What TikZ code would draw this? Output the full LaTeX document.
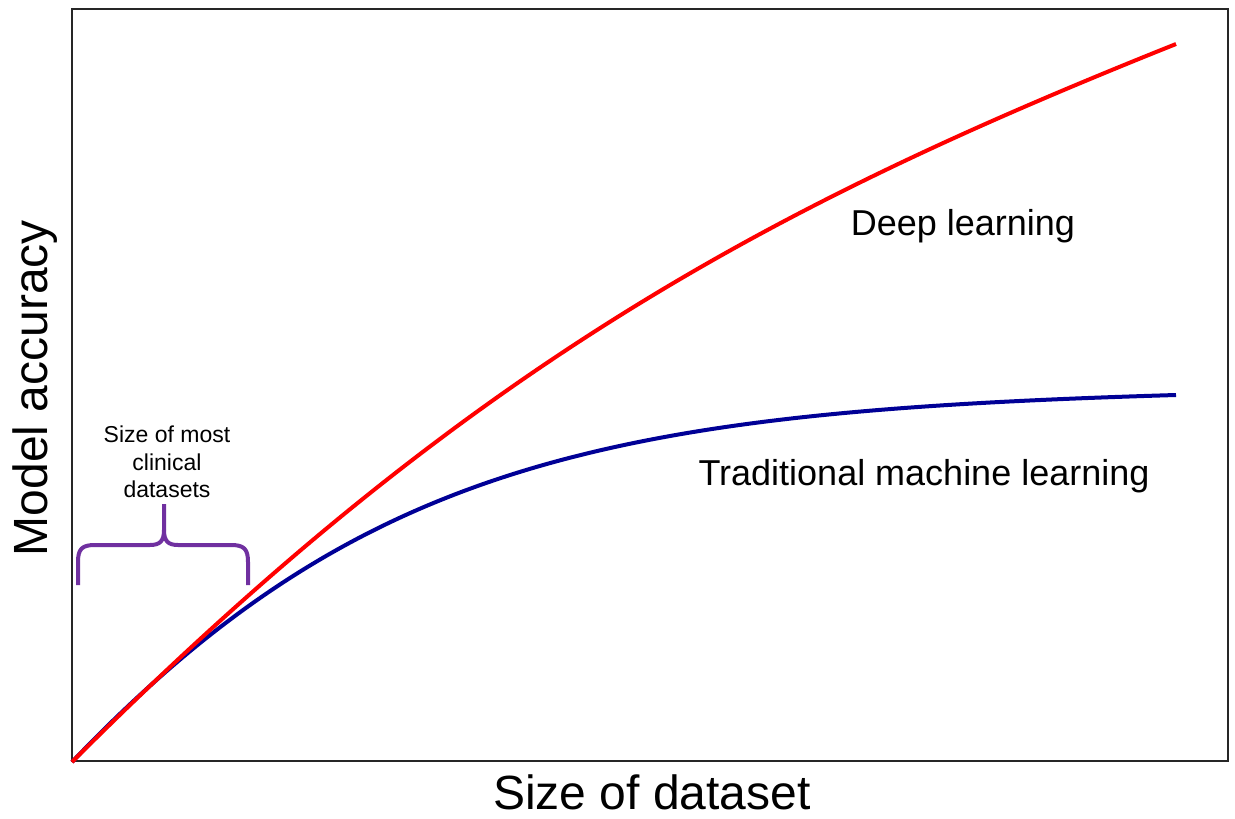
\documentclass[tikz,border=0pt]{standalone}
\usepackage{fontspec}
\setmainfont{Liberation Sans}
\definecolor{dlred}{RGB}{255,0,0}
\definecolor{mlblue}{RGB}{0,0,150}
\definecolor{bracepurple}{RGB}{112,48,160}
\begin{document}
\begin{tikzpicture}[x=1pt,y=-1pt,
  frame/.style={draw=black!85,line width=2pt},
  curve/.style={line width=4pt},
  bigtext/.style={font=\fontsize{48}{56}\selectfont,inner sep=0pt},
  midtext/.style={font=\fontsize{36}{42}\selectfont,inner sep=0pt},
  smalltext/.style={font=\fontsize{23}{27.5}\selectfont,inner sep=0pt,align=center}]
\useasboundingbox[fill=white] (0,0) rectangle (1235,819);
% frame
\draw[frame] (72,9) rectangle (1228,761);
% curves
\coordinate (o) at (72,762);
\coordinate (dlend) at (1176,44);
\coordinate (mlend) at (1176,395);
\draw[curve,mlblue] (o) .. controls (365,455) and (626,411.5) .. (mlend);
\draw[curve,dlred] (o) .. controls (472,362) and (776,204) .. (dlend);
% brace
\draw[bracepurple,line width=4pt]
  (78,585) -- (78,562) .. controls (78,549) and (82,545) .. (95,545) -- (150,545)
  .. controls (160,545) and (164,541) .. (164,530) -- (164,504);
\draw[bracepurple,line width=4pt]
  (164,530) .. controls (164,541) and (168,545) .. (178,545) -- (231,545)
  .. controls (244,545) and (248,549) .. (248,562) -- (248,585);
% labels
\node[smalltext] (clin) at (167,462) {Size of most\\clinical\\datasets};
\node[midtext] (dl) at (963,226) {Deep learning};
\node[midtext] (ml) at (924,476) {Traditional machine learning};
\node[bigtext,anchor=base] (xl) at (652,809) {Size of dataset};
\node[bigtext,rotate=90] (yl) at (35,388) {Model accuracy};
\end{tikzpicture}
\end{document}
